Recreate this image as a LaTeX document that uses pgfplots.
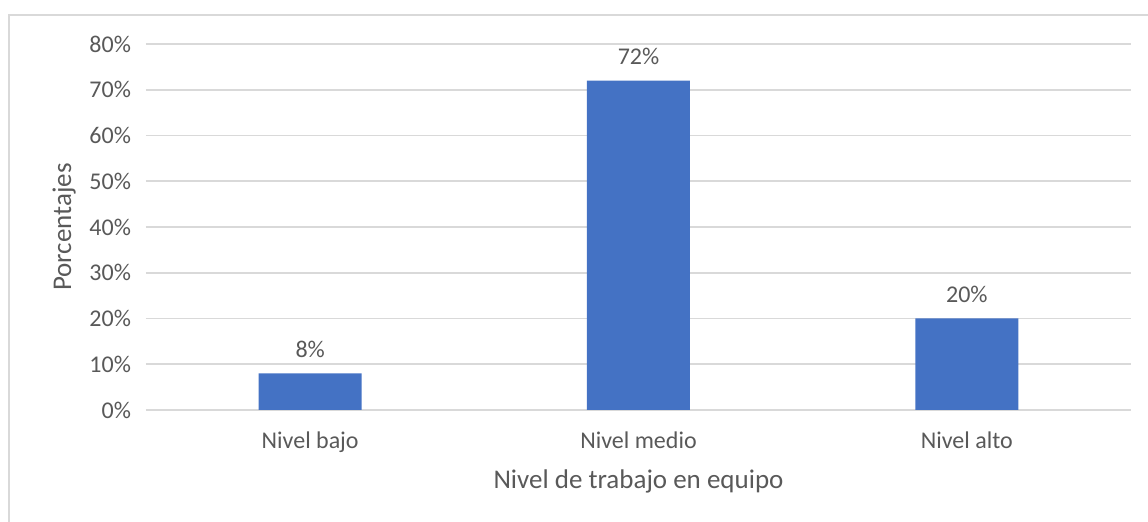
\documentclass[border=0pt]{standalone}
\usepackage{pgfplots}
\pgfplotsset{compat=1.18}
\usepackage{fontspec}
\setmainfont{Carlito}
\definecolor{barblue}{HTML}{4472C4}
\definecolor{gridgray}{HTML}{D9D9D9}
\definecolor{txtgray}{HTML}{595959}

\begin{document}
\begin{tikzpicture}
\begin{axis}[
  name=ax,
  scale only axis,
  width=492.5pt, height=183pt,
  xmin=-0.5, xmax=2.5,
  ymin=0, ymax=80,
  ytick={0,10,...,80},
  yticklabel={\pgfmathprintnumber{\tick}\%},
  xtick=data,
  xticklabels={Nivel bajo,Nivel medio,Nivel alto},
  ymajorgrids,
  grid style={gridgray, line width=0.8pt},
  axis line style={draw=none},
  axis x line*=bottom,
  x axis line style={draw=gridgray, line width=0.8pt},
  major tick style={draw=none},
  ticklabel style={font=\fontsize{12}{14}\selectfont, text=txtgray},
  /pgf/number format/assume math mode=true,
  yticklabel style={xshift=-4pt},
  xticklabel style={yshift=-3pt},
  ylabel={Porcentajes},
  xlabel={Nivel de trabajo en equipo},
  label style={font=\fontsize{13.5}{16}\selectfont, text=txtgray},
  ylabel style={yshift=0pt},
  xlabel style={yshift=-2pt},
  ybar, bar width=51.5pt,
  nodes near coords={\pgfmathprintnumber{\pgfplotspointmeta}\%},
  nodes near coords style={font=\fontsize{12}{14}\selectfont, text=txtgray, yshift=4.5pt},
  clip=false,
]
\addplot[fill=barblue, draw=none] coordinates {(0,8) (1,72) (2,20)};
\end{axis}
\draw[gridgray, line width=0.8pt] (-68.5pt,-70pt) |- (520pt,197.5pt);
\pgfresetboundingbox
\useasboundingbox (-73pt,-56pt) rectangle (501pt,205pt);
\end{tikzpicture}
\end{document}
